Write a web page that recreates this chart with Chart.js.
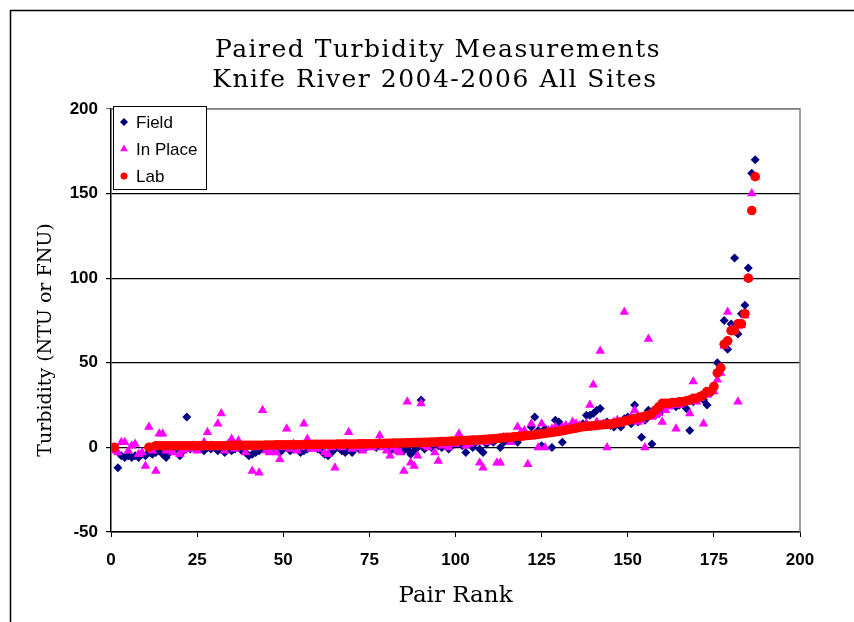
<!DOCTYPE html>
<html lang="en">
<head>
    <meta charset="UTF-8">
    <title>Paired Turbidity Measurements</title>
    <script src="https://cdn.jsdelivr.net/npm/chart.js@4.4.1/dist/chart.umd.min.js"></script>
    <style>
        * {
            margin: 0;
            padding: 0;
            box-sizing: border-box;
        }

        body {
            background: white;
            width: 854px;
            height: 622px;
            overflow: hidden;
        }
    </style>
</head>
<body>
    <canvas id="turbidityChart" width="854" height="622"></canvas>

    <script>
        // chart text
        const titleLines = ['Paired Turbidity Measurements', 'Knife River 2004-2006 All Sites'];
        const xTitle = 'Pair Rank';
        const yTitle = 'Turbidity (NTU or FNU)';

        // tick labels
        const xTicks = [0, 25, 50, 75, 100, 125, 150, 175, 200];
        const yTicks = [-50, 0, 50, 100, 150, 200];

        // series values, one per pair rank (rank 1 first)
        const fieldValues = [
            0, -12, -5, -6, -5, -6, -5, -6, -4, -5,
            -3, -4, -3, -2, -4, -6, -3, -2, -1, -5,
            -2, 18, -1, 0, -1, 0, -2, 0, -1, 0,
            -2, -1, -3, 0, -2, -1, 0, -2, -3, -5,
            -4, -3, -2, 0, -1, -2, 0, -2, -3, -1,
            0, -2, -1, 0, -3, -2, -1, 0, 1, -1,
            -2, -4, -5, -3, -1, 0, -2, -3, -1, -3,
            0, -1, 1, 0, 2, 1, 0, 3, 1, 0,
            -2, -1, -2, 0, -2, -1, -4, -2, 0, 28,
            -1, 1, 0, 2, 1, 0, 2, -1, 1, 2,
            3, 1, -3, 2, 0, 3, -1, -3, 2, 4,
            3, 5, 0, 3, 5, 4, 6, 3, 7, 8,
            7, 12, 18, 10, 1, 11, 9, 0, 16, 15,
            3, 10, 12, 11, 13, 12, 14, 19, 19, 20,
            22, 23, 14, 15, 13, 12, 14, 12, 17, 18,
            14, 25, 15, 6, 16, 22, 2, 19, 20, 22,
            24, 25, 26, 24, 25, 26, 23, 10, 27, 28,
            30, 28, 25, 32, 35, 50, 46, 75, 58, 73,
            112, 67, 79, 84, 106, 162, 170
        ];

        const inPlaceValues = [
            -2, -3, 3, 3, -2, 1, 2, -4, -3, -11,
            12, -2, -14, 8, 8, -2, -1, -3, 0, -4,
            -2, 0, -1, 1, -2, 0, 3, 9, 1, 0,
            14, 20, -2, 2, 5, -1, 4, 0, -3, 1,
            -14, 0, -15, 22, -2, -3, -1, -3, -7, 0,
            11, -1, 2, -2, 0, 14, 5, -1, 0, -1,
            1, -3, -4, 0, -12, 1, 0, 2, 9, -1,
            0, 1, -2, 0, 1, 0, 2, 7, 0, -2,
            -5, 0, -2, -3, -14, 27, -9, -11, -5, 26,
            1, 0, 2, -3, -8, 1, 2, 0, 3, 2,
            8, 3, 1, 2, 4, 3, -9, -12, 3, 4,
            5, -9, -9, 6, 5, 3, 6, 12, 9, 10,
            -10, 14, 8, 0, 14, 0, 10, 11, 12, 10,
            12, 13, 11, 15, 14, 13, 12, 14, 25, 37,
            15, 57, 14, 0, 13, 15, 16, 14, 80, 16,
            18, 22, 15, 16, 0, 64, 18, 19, 20, 15,
            22, 24, 25, 11, 25, 26, 27, 20, 39, 27,
            29, 14, 31, 34, 33, 40, 44, 60, 80, 70,
            70, 27, 72, 78, 100, 150, 160
        ];

        const labValues = [
            0, null, null, null, null, null, null, null, null, null,
            0, null, 1, 1, 1, 1, 1, 1, 1, 1,
            1, 1, 1, 1, 1, 1, 1, 1, 1, 1,
            1, 1, 1, 1, 1.2, 1.2, 1.2, 1.2, 1.2, 1.2,
            1.3, 1.3, 1.3, 1.3, 1.4, 1.4, 1.4, 1.5, 1.5, 1.5,
            1.5, 1.5, 1.6, 1.6, 1.6, 1.7, 1.7, 1.7, 1.8, 1.8,
            1.8, 1.8, 1.9, 1.9, 1.9, 2, 2, 2, 2, 2,
            2, 2.1, 2.1, 2.1, 2.2, 2.2, 2.2, 2.3, 2.3, 2.4,
            2.4, 2.5, 2.5, 2.6, 2.6, 2.7, 2.7, 2.8, 2.8, 2.9,
            3, 3, 3.1, 3.2, 3.3, 3.4, 3.5, 3.6, 3.7, 3.8,
            3.9, 4, 4.1, 4.2, 4.3, 4.4, 4.5, 4.6, 4.8, 5,
            5.1, 5.3, 5.5, 5.7, 5.9, 6, 6.2, 6.4, 6.6, 6.8,
            7, 7.2, 7.4, 7.7, 8, 8.3, 8.6, 8.9, 9.2, 9.5,
            9.8, 10.2, 10.6, 11, 11.4, 11.8, 12.2, 12.4, 12.6, 12.8,
            13, 13.2, 13.4, 13.6, 13.8, 14.2, 14.6, 15, 15.5, 16,
            16.5, 17, 17.5, 18, 18.5, 19, 20, 22, 24, 26,
            26, 26, 26.5, 26.5, 27, 27, 27.5, 28, 29, 29,
            30, 31, 33, 33, 36, 44, 47, 61, 63, 69,
            69, 73, 73, 79, 100, 140, 160
        ];

        const toPoints = values => values.map((v, i) => ({ x: i + 1, y: v }));

        // outer frame, plot frame, titles and the boxed legend
        const decorations = {
            id: 'decorations',
            beforeDraw(chart) {
                const ctx = chart.ctx;
                ctx.save();
                ctx.fillStyle = 'white';
                ctx.fillRect(0, 0, chart.width, chart.height);
                ctx.strokeStyle = '#000';
                ctx.lineWidth = 1.5;
                ctx.beginPath();
                ctx.moveTo(10.5, chart.height);
                ctx.lineTo(10.5, 10.5);
                ctx.lineTo(chart.width, 10.5);
                ctx.stroke();

                ctx.fillStyle = '#000';
                ctx.font = '25px "DejaVu Serif"';
                ctx.letterSpacing = '1.5px';
                ctx.textAlign = 'center';
                ctx.textBaseline = 'middle';
                ctx.fillText(titleLines[0], 438, 50);
                ctx.fillText(titleLines[1], 435, 80);

                // y axis title, a little below the axis centre as in the source
                ctx.font = '19px "DejaVu Serif"';
                ctx.letterSpacing = '0px';
                ctx.translate(46, 340);
                ctx.rotate(-Math.PI / 2);
                ctx.fillText(yTitle, 0, 0);
                ctx.restore();
            },
            afterDraw(chart) {
                const ctx = chart.ctx;
                const area = chart.chartArea;
                ctx.save();
                ctx.strokeStyle = '#808080';
                ctx.lineWidth = 1.5;
                ctx.beginPath();
                ctx.moveTo(area.left, area.top);
                ctx.lineTo(area.right, area.top);
                ctx.lineTo(area.right, area.bottom);
                ctx.stroke();

                // legend box
                const box = { x: 113, y: 106, w: 93, h: 83 };
                ctx.fillStyle = 'white';
                ctx.fillRect(box.x, box.y, box.w, box.h);
                ctx.strokeStyle = '#000';
                ctx.lineWidth = 1;
                ctx.strokeRect(box.x + 0.5, box.y + 0.5, box.w, box.h);
                ctx.font = '17px "Liberation Sans"';
                ctx.textBaseline = 'middle';
                chart.data.datasets.forEach((ds, i) => {
                    const cy = 122 + i * 27;
                    ctx.fillStyle = ds.backgroundColor;
                    Chart.helpers.drawPoint(ctx, {
                        pointStyle: ds.pointStyle,
                        radius: ds.legendRadius,
                        borderWidth: 0
                    }, 124, cy);
                    ctx.fillStyle = '#000';
                    ctx.fillText(ds.label, 136, cy + 1);
                });
                ctx.restore();
            }
        };

        new Chart(document.getElementById('turbidityChart'), {
            type: 'scatter',
            data: {
                datasets: [{
                    label: 'Field',
                    data: toPoints(fieldValues),
                    pointStyle: 'rectRot',
                    pointRadius: 4.5,
                    legendRadius: 4,
                    backgroundColor: '#000080',
                    borderColor: '#000080',
                    borderWidth: 0,
                    order: 3
                }, {
                    label: 'In Place',
                    data: toPoints(inPlaceValues),
                    pointStyle: 'triangle',
                    pointRadius: 5.5,
                    legendRadius: 4.5,
                    backgroundColor: '#FF00FF',
                    borderColor: '#FF00FF',
                    borderWidth: 0,
                    order: 2
                }, {
                    label: 'Lab',
                    data: toPoints(labValues),
                    pointStyle: 'circle',
                    pointRadius: 4.8,
                    legendRadius: 3.5,
                    backgroundColor: '#FF0000',
                    borderColor: '#FF0000',
                    borderWidth: 0,
                    order: 1
                }]
            },
            options: {
                responsive: false,
                animation: false,
                devicePixelRatio: 1,
                layout: {
                    padding: { left: 10, right: 54, top: 109, bottom: 0 }
                },
                plugins: {
                    legend: { display: false },
                    title: { display: false },
                    tooltip: { enabled: false }
                },
                scales: {
                    x: {
                        type: 'linear',
                        min: 0,
                        max: 200,
                        afterBuildTicks: scale => {
                            scale.ticks = xTicks.map(v => ({ value: v }));
                        },
                        afterFit: scale => { scale.height = 90; },
                        ticks: {
                            color: '#000',
                            padding: 13,
                            font: { family: 'Liberation Sans', size: 17, weight: 'bold' }
                        },
                        grid: {
                            drawOnChartArea: false,
                            tickLength: 5,
                            color: '#000'
                        },
                        border: { color: '#000', width: 1.5 },
                        title: {
                            display: true,
                            text: xTitle,
                            color: '#000',
                            padding: { bottom: 12 },
                            font: { family: 'DejaVu Serif', size: 23 }
                        }
                    },
                    y: {
                        min: -50,
                        max: 200,
                        afterBuildTicks: scale => {
                            scale.ticks = yTicks.map(v => ({ value: v }));
                        },
                        afterFit: scale => { scale.width = 101; },
                        ticks: {
                            color: '#000',
                            padding: 8,
                            font: { family: 'Liberation Sans', size: 17, weight: 'bold' }
                        },
                        grid: {
                            tickLength: 5,
                            color: ctx => (ctx.tick && ctx.tick.value === 200) ? '#808080' : '#000',
                            lineWidth: 1.2
                        },
                        border: { color: '#000', width: 1.5 },
                        title: { display: false }
                    }
                }
            },
            plugins: [decorations]
        });
    </script>
</body>
</html>
